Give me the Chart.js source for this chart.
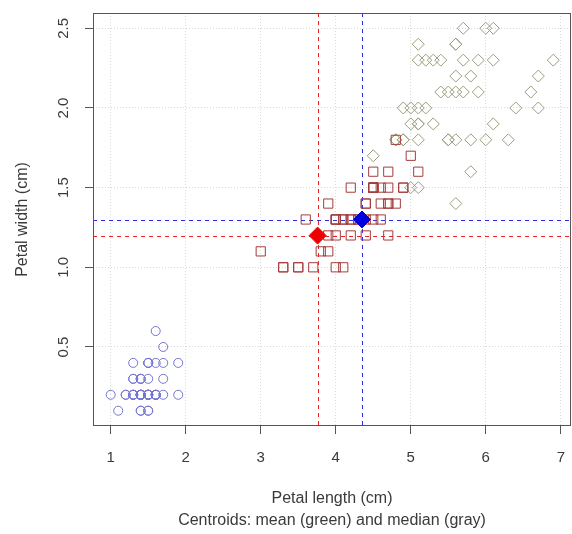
<!DOCTYPE html>
<html>
<head>
<meta charset="utf-8">
<title>Iris petals</title>
<script src="https://cdn.jsdelivr.net/npm/chart.js@4.4.1/dist/chart.umd.min.js"></script>
<style>
    html, body { margin: 0; padding: 0; background: #ffffff; }
    #wrap { width: 572px; height: 534px; }
</style>
</head>
<body>
<div id="wrap"><canvas id="petalChart" width="572" height="534"></canvas></div>
<script>
// Iris petal measurements (cm), one pair of arrays per species
const setosaLength = [1.4, 1.4, 1.3, 1.5, 1.4, 1.7, 1.4, 1.5, 1.4, 1.5, 1.5, 1.6, 1.4, 1.1, 1.2, 1.5, 1.3, 1.4, 1.7, 1.5,
    1.7, 1.5, 1.0, 1.7, 1.9, 1.6, 1.6, 1.5, 1.4, 1.6, 1.6, 1.5, 1.5, 1.4, 1.5, 1.2, 1.3, 1.4, 1.3, 1.5,
    1.3, 1.3, 1.3, 1.6, 1.9, 1.4, 1.6, 1.4, 1.5, 1.4];
const setosaWidth = [0.2, 0.2, 0.2, 0.2, 0.2, 0.4, 0.3, 0.2, 0.2, 0.1, 0.2, 0.2, 0.1, 0.1, 0.2, 0.4, 0.4, 0.3, 0.3, 0.3,
    0.2, 0.4, 0.2, 0.5, 0.2, 0.2, 0.4, 0.2, 0.2, 0.2, 0.2, 0.4, 0.1, 0.2, 0.2, 0.2, 0.2, 0.1, 0.2, 0.2,
    0.3, 0.3, 0.2, 0.6, 0.4, 0.3, 0.2, 0.2, 0.2, 0.2];

const versicolorLength = [4.7, 4.5, 4.9, 4.0, 4.6, 4.5, 4.7, 3.3, 4.6, 3.9, 3.5, 4.2, 4.0, 4.7, 3.6, 4.4, 4.5, 4.1, 4.5, 3.9,
    4.8, 4.0, 4.9, 4.7, 4.3, 4.4, 4.8, 5.0, 4.5, 3.5, 3.8, 3.7, 3.9, 5.1, 4.5, 4.5, 4.7, 4.4, 4.1, 4.0,
    4.4, 4.6, 4.0, 3.3, 4.2, 4.2, 4.2, 4.3, 3.0, 4.1];
const versicolorWidth = [1.4, 1.5, 1.5, 1.3, 1.5, 1.3, 1.6, 1.0, 1.3, 1.4, 1.0, 1.5, 1.0, 1.4, 1.3, 1.4, 1.5, 1.0, 1.5, 1.1,
    1.8, 1.3, 1.5, 1.2, 1.3, 1.4, 1.4, 1.7, 1.5, 1.0, 1.1, 1.0, 1.2, 1.6, 1.5, 1.6, 1.5, 1.3, 1.3, 1.3,
    1.2, 1.4, 1.2, 1.0, 1.3, 1.2, 1.3, 1.3, 1.1, 1.3];

const virginicaLength = [6.0, 5.1, 5.9, 5.6, 5.8, 6.6, 4.5, 6.3, 5.8, 6.1, 5.1, 5.3, 5.5, 5.0, 5.1, 5.3, 5.5, 6.7, 6.9, 5.0,
    5.7, 4.9, 6.7, 4.9, 5.7, 6.0, 4.8, 4.9, 5.6, 5.8, 6.1, 6.4, 5.6, 5.1, 5.6, 6.1, 5.6, 5.5, 4.8, 5.4,
    5.6, 5.1, 5.1, 5.9, 5.7, 5.2, 5.0, 5.2, 5.4, 5.1];
const virginicaWidth = [2.5, 1.9, 2.1, 1.8, 2.2, 2.1, 1.7, 1.8, 1.8, 2.5, 2.0, 1.9, 2.1, 2.0, 2.4, 2.3, 1.8, 2.2, 2.3, 1.5,
    2.3, 2.0, 2.0, 1.8, 2.1, 1.8, 1.8, 1.8, 2.1, 1.6, 1.9, 2.0, 2.2, 1.5, 1.4, 2.3, 2.4, 1.8, 1.8, 2.1,
    2.4, 2.3, 1.9, 2.3, 2.5, 2.3, 1.9, 2.0, 2.3, 1.8];

// Centroids of all 150 flowers
const meanCentroid = [3.758, 1.199];
const medianCentroid = [4.35, 1.3];

// Axis ticks and limits
const xTickValues = [1, 2, 3, 4, 5, 6, 7];
const yTickValues = [0.5, 1.0, 1.5, 2.0, 2.5];
const xLimits = [0.764, 7.136];
const yLimits = [0.004, 2.596];

const xTitle = 'Petal length (cm)';
const subTitle = 'Centroids: mean (green) and median (gray)';
const yTitle = 'Petal width (cm)';

const FONT = '"Liberation Sans", Arial, sans-serif';
const TEXT_COLOR = '#3a3a3a';
const GRID_COLOR = 'rgba(200, 200, 200, 0.7)';

function toPoints(xs, ys) {
    return xs.map((v, i) => ({ x: v, y: ys[i] }));
}

// dashed cross-hairs through each centroid, drawn under the points
const centroidLines = {
    id: 'centroidLines',
    beforeDatasetsDraw(chart) {
        const { ctx, chartArea: a, scales: { x, y } } = chart;
        const lines = [
            { c: meanCentroid, color: '#ee2222' },
            { c: medianCentroid, color: '#2a2aee' }
        ];
        ctx.save();
        ctx.beginPath();
        ctx.rect(a.left, a.top, a.right - a.left, a.bottom - a.top);
        ctx.clip();
        ctx.lineWidth = 1;
        ctx.setLineDash([4, 4]);
        lines.forEach(l => {
            const px = Math.round(x.getPixelForValue(l.c[0])) + 0.5;
            const py = Math.round(y.getPixelForValue(l.c[1])) + 0.5;
            ctx.strokeStyle = l.color;
            ctx.beginPath();
            ctx.moveTo(px, a.top);
            ctx.lineTo(px, a.bottom);
            ctx.stroke();
            ctx.beginPath();
            ctx.moveTo(a.left, py);
            ctx.lineTo(a.right, py);
            ctx.stroke();
        });
        ctx.restore();
    }
};

// box round the plotting region
const plotBox = {
    id: 'plotBox',
    afterDraw(chart) {
        const { ctx, chartArea: a } = chart;
        ctx.save();
        ctx.strokeStyle = '#555555';
        ctx.lineWidth = 1;
        ctx.strokeRect(a.left + 0.5, a.top + 0.5, a.right - a.left - 1, a.bottom - a.top - 1);
        ctx.restore();
    }
};

function initPetalChart() {
    const canvas = document.getElementById('petalChart');
    if (!canvas) return null;

    return new Chart(canvas.getContext('2d'), {
        type: 'scatter',
        data: {
            datasets: [
                {
                    label: 'mean',
                    data: [{ x: meanCentroid[0], y: meanCentroid[1] }],
                    pointStyle: 'rectRot',
                    pointRadius: 8.5,
                    backgroundColor: '#ee0000',
                    borderColor: '#ee0000',
                    borderWidth: 1,
                    order: 0
                },
                {
                    label: 'median',
                    data: [{ x: medianCentroid[0], y: medianCentroid[1] }],
                    pointStyle: 'rectRot',
                    pointRadius: 8.5,
                    backgroundColor: '#0000dd',
                    borderColor: '#0000dd',
                    borderWidth: 1,
                    order: 0
                },
                {
                    label: 'setosa',
                    data: toPoints(setosaLength, setosaWidth),
                    pointStyle: 'circle',
                    pointRadius: 4.5,
                    backgroundColor: 'rgba(0,0,0,0)',
                    borderColor: '#7474d2',
                    borderWidth: 1,
                    order: 1
                },
                {
                    label: 'versicolor',
                    data: toPoints(versicolorLength, versicolorWidth),
                    pointStyle: 'rect',
                    pointRadius: 6.5,
                    backgroundColor: 'rgba(0,0,0,0)',
                    borderColor: '#a43c3c',
                    borderWidth: 1,
                    order: 1
                },
                {
                    label: 'virginica',
                    data: toPoints(virginicaLength, virginicaWidth),
                    pointStyle: 'rectRot',
                    pointRadius: 6,
                    backgroundColor: 'rgba(0,0,0,0)',
                    borderColor: '#9c9c7c',
                    borderWidth: 1,
                    order: 1
                }
            ]
        },
        options: {
            responsive: false,
            animation: false,
            layout: {
                autoPadding: false,
                padding: { top: 13, right: 1, left: 0, bottom: 0 }
            },
            scales: {
                x: {
                    type: 'linear',
                    min: xLimits[0],
                    max: xLimits[1],
                    afterBuildTicks: s => { s.ticks = xTickValues.map(v => ({ value: v })); },
                    afterFit: s => {
                        s.height = 108;
                        s.paddingLeft = 0;
                        s.paddingRight = 0;
                    },
                    ticks: {
                        autoSkip: false,
                        maxRotation: 0,
                        padding: 15,
                        color: TEXT_COLOR,
                        font: { family: FONT, size: 15 },
                        callback: v => String(v)
                    },
                    grid: {
                        color: GRID_COLOR,
                        tickLength: 8,
                        tickColor: '#555555',
                        tickBorderDash: []
                    },
                    border: { display: false, dash: [1, 2] },
                    title: {
                        display: true,
                        text: [xTitle, subTitle],
                        color: TEXT_COLOR,
                        font: { family: FONT, size: 16, lineHeight: 1.375 },
                        padding: { top: 0, bottom: 2 }
                    }
                },
                y: {
                    type: 'linear',
                    min: yLimits[0],
                    max: yLimits[1],
                    afterBuildTicks: s => { s.ticks = yTickValues.map(v => ({ value: v })); },
                    afterFit: s => {
                        s.width = 93;
                        s.paddingTop = 0;
                        s.paddingBottom = 0;
                    },
                    ticks: {
                        autoSkip: false,
                        minRotation: 90,
                        maxRotation: 90,
                        crossAlign: 'center',
                        padding: 11,
                        color: TEXT_COLOR,
                        font: { family: FONT, size: 15 },
                        callback: v => v.toFixed(1)
                    },
                    grid: {
                        color: GRID_COLOR,
                        tickLength: 8,
                        tickColor: '#555555',
                        tickBorderDash: []
                    },
                    border: { display: false, dash: [1, 2] },
                    title: {
                        display: true,
                        text: yTitle,
                        color: TEXT_COLOR,
                        font: { family: FONT, size: 16, lineHeight: 1.2 },
                        padding: { top: 13, bottom: 0 }
                    }
                }
            },
            plugins: {
                legend: { display: false },
                tooltip: { enabled: false }
            }
        },
        plugins: [centroidLines, plotBox]
    });
}

initPetalChart();
</script>
</body>
</html>
